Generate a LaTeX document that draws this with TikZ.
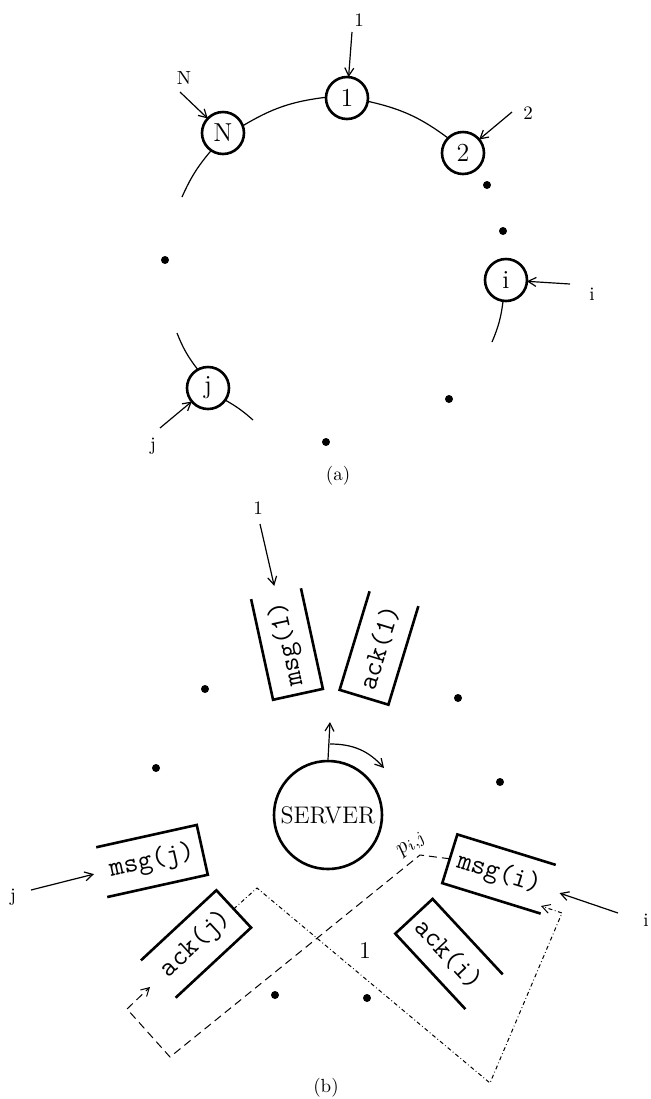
\documentclass[tikz,border=0pt]{standalone}
\usetikzlibrary{calc, arrows.meta}

\newcommand{\openeast}[1]{\draw[wall] (#1.north east) -- (#1.north west) -- (#1.south west) -- (#1.south east);}
\newcommand{\openwest}[1]{\draw[wall] (#1.north west) -- (#1.north east) -- (#1.south east) -- (#1.south west);}

\begin{document}
\begin{tikzpicture}[
    x=.5pt, y=-.5pt,
    >={Straight Barb[length=4pt, width=4.5pt]},
    proc/.style={circle, draw, line width=1.3pt, minimum size=21pt, inner sep=0pt, outer sep=0pt, font=\fontsize{13}{15}\selectfont},
    ring/.style={line width=.6pt},
    arr/.style={->, line width=.6pt},
    lbl/.style={font=\fontsize{9.5}{11}\selectfont, inner sep=1pt},
    chan/.style={rectangle, minimum width=51.5pt, minimum height=25.5pt, inner sep=0pt, outer sep=0pt, font=\fontsize{14}{16}\selectfont\ttfamily},
    wall/.style={line width=1.3pt},
    msgroute/.style={line width=.5pt, dash pattern=on 4pt off 2.5pt},
    ackroute/.style={line width=.5pt, dash pattern=on 2pt off 1.3pt on .4pt off 1.3pt},
  ]
  \useasboundingbox (0,0) rectangle (651,1099);

  %% (a) the processes on a ring
  \node[proc] (c1) at (347,98) {1};
  \node[proc] (cN) at (223,133) {N};
  \node[proc] (c2) at (463,153) {2};
  \node[proc] (ci) at (506,280) {i};
  \node[proc] (cj) at (208,388) {j};

  \coordinate (rN) at (182,197);
  \coordinate (ri) at (492,342);
  \coordinate (rja) at (177,333);
  \coordinate (rjb) at (253,420);
  \draw[ring] (cN.20) to[bend left=12] (c1.178);
  \draw[ring] (c1.-9) to[bend left=12] (c2.135);
  \draw[ring] (cN.236) to[bend right=8] (rN);
  \draw[ring] (ci.262) to[bend left=8] (ri);
  \draw[ring] (rja) to[bend right=8] (cj.119);
  \draw[ring] (cj.-35) to[bend left=6] (rjb);

  \node[lbl] (l1) at (359,20) {1};
  \node[lbl] (lN) at (184,78) {N};
  \node[lbl] (l2) at (528,113) {2};
  \node[lbl] (li) at (592,294) {i};
  \node[lbl] (lj) at (153,446) {j};
  \coordinate (t1) at (352,32);
  \coordinate (tN) at (180,92);
  \coordinate (t2) at (512,112);
  \coordinate (ti) at (570,284);
  \coordinate (tj) at (160,428);
  \draw[arr] (t1) -- (c1);
  \draw[arr] (tN) -- (cN);
  \draw[arr] (t2) -- (c2);
  \draw[arr] (ti) -- (ci);
  \draw[arr] (tj) -- (cj);

  \foreach \p in {(165,260), (503,231), (487,185), (449,399), (326,442)}
    \fill \p circle (2pt);

  \node[lbl] (capa) at (338,476) {(a)};

  %% (b) the server and its channels
  \node[circle, draw, line width=1.3pt, minimum size=54pt, inner sep=0pt, font=\fontsize{12}{14}\selectfont] (server) at (328,815) {\raisebox{-4pt}{SERVER}};

  \node[chan, rotate=102.3] (msg1) at (287,644) {msg(1)};
  \node[chan, rotate=73.1] (ack1) at (379,648) {ack(1)};
  \node[chan, rotate=12.5] (msgj) at (152,861) {msg(j)};
  \node[chan, rotate=42.9] (ackj) at (196,944) {ack(j)};
  \node[chan, rotate=-17.2] (msgi) at (499,874) {msg(i)};
  \node[chan, rotate=-47.1] (acki) at (449,954) {ack(i)};
  \openeast{msg1}
  \openeast{ack1}
  \openwest{msgj}
  \openwest{ackj}
  \openeast{msgi}
  \openeast{acki}

  %% the server turns from channel to channel
  \coordinate (up) at (330,722);
  \coordinate (sweep) at (330,744);
  \coordinate (sweepend) at (384,768);
  \draw[arr] (server.north) -- (up);
  \draw[arr] (sweep) to[bend left=24] (sweepend);

  \node[lbl] (m1) at (258,508) {1};
  \node[lbl] (mj) at (13,897) {j};
  \node[lbl] (mi) at (646,920) {i};
  \coordinate (s1) at (260,524);
  \coordinate (sj) at (31,890);
  \coordinate (si) at (618,913);
  \draw[arr, shorten >=4pt] (s1) -- (msg1.east);
  \draw[arr, shorten >=4pt] (sj) -- (msgj.west);
  \draw[arr, shorten >=6pt] (si) -- (msgi.east);

  %% the two routes between i and j
  \coordinate (pa) at (420,855);
  \coordinate (pb) at (170,1057);
  \coordinate (pc) at (127,1009);
  \coordinate (pd) at (150,987);
  \draw[msgroute, ->] (msgi.west) -- (pa) -- (pb) -- (pc) -- (pd);
  \node[lbl, rotate=39, font=\fontsize{11}{13}\selectfont] (pij) at (412,845) {$p_{i,j}$};

  \coordinate (qa) at (257,888);
  \coordinate (qb) at (490,1083);
  \coordinate (qc) at (562,913);
  \coordinate (qd) at (541,906);
  \draw[ackroute, ->] (ackj.east) -- (qa) -- (qb) -- (qc) -- (qd);
  \node[lbl, font=\fontsize{12}{14}\selectfont] (one) at (365,951) {1};

  \foreach \p in {(205,689), (458,698), (156,768), (500,782), (275,995), (367,998)}
    \fill \p circle (2pt);

  \node[lbl] (capb) at (326,1088) {(b)};
\end{tikzpicture}
\end{document}
